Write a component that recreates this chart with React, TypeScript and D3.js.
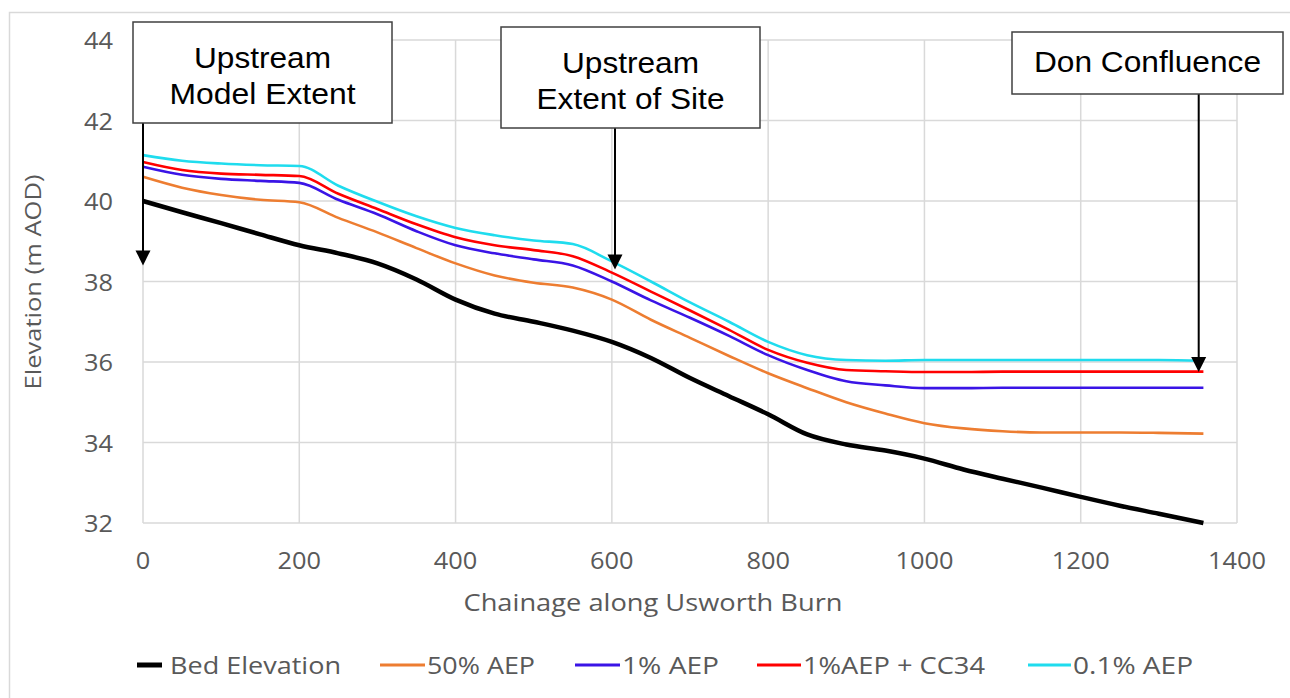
import React from "react";
import * as d3 from "d3";

const chainage = [0, 50, 100, 150, 200, 250, 300, 350, 400, 450, 500, 550, 600, 650, 700, 750, 800, 850, 900, 950, 1000, 1050, 1100, 1150, 1200, 1250, 1300, 1357];
const bedElevation = [40.0, 39.72, 39.45, 39.17, 38.9, 38.7, 38.45, 38.05, 37.55, 37.2, 37.0, 36.78, 36.5, 36.1, 35.6, 35.15, 34.7, 34.2, 33.95, 33.8, 33.6, 33.33, 33.1, 32.88, 32.65, 32.43, 32.23, 32.0];
const aep50 = [40.6, 40.33, 40.15, 40.03, 39.97, 39.58, 39.22, 38.83, 38.45, 38.15, 37.97, 37.85, 37.55, 37.05, 36.6, 36.15, 35.72, 35.35, 35.0, 34.72, 34.48, 34.35, 34.28, 34.25, 34.25, 34.25, 34.24, 34.22];
const aep1 = [40.85, 40.65, 40.55, 40.5, 40.45, 40.03, 39.67, 39.25, 38.9, 38.7, 38.55, 38.4, 38.0, 37.53, 37.1, 36.65, 36.17, 35.8, 35.52, 35.42, 35.35, 35.35, 35.36, 35.36, 35.36, 35.36, 35.36, 35.36];
const aep1cc = [40.97, 40.77, 40.68, 40.65, 40.62, 40.18, 39.8, 39.42, 39.1, 38.9, 38.78, 38.63, 38.22, 37.75, 37.28, 36.8, 36.3, 35.98, 35.8, 35.77, 35.75, 35.75, 35.76, 35.76, 35.76, 35.76, 35.76, 35.76];
const aep01 = [41.14, 41.0, 40.93, 40.89, 40.87, 40.38, 39.98, 39.62, 39.33, 39.15, 39.02, 38.93, 38.5, 38.0, 37.48, 37.0, 36.5, 36.17, 36.05, 36.03, 36.05, 36.05, 36.05, 36.05, 36.05, 36.05, 36.05, 36.03];

const xTicks = [0, 200, 400, 600, 800, 1000, 1200, 1400];
const yTicks = [32, 34, 36, 38, 40, 42, 44];

const seriesNames = ["Bed Elevation", "50% AEP", "1% AEP", "1%AEP + CC34", "0.1% AEP"];
const seriesValues = [bedElevation, aep50, aep1, aep1cc, aep01];
const seriesColors = ["#000000", "#ED7D31", "#3A14E6", "#FF0000", "#1FDCEE"];
const seriesWidths = [4.5, 2.6, 2.6, 2.6, 2.6];

const annotations = [
  { lines: ["Upstream", "Model Extent"], at: 0, tip: 38.4 },
  { lines: ["Upstream", "Extent of Site"], at: 604, tip: 38.3 },
  { lines: ["Don Confluence"], at: 1351, tip: 35.75 },
];

export default function App() {
  const W = 1290, H = 698;
  const x = d3.scaleLinear().domain([0, 1400]).range([143, 1237]);
  const y = d3.scaleLinear().domain([32, 44]).range([523, 40]);
  const line = d3.line<number>().x((_, i) => x(chainage[i])).y((d) => y(d)).curve(d3.curveMonotoneX);

  const boxes = [
    { x0: 133, y0: 22, x1: 392, y1: 123, base: [68, 104], widths: [137, 186] },
    { x0: 501, y0: 27, x1: 760, y1: 128, base: [73, 109], widths: [137, 188] },
    { x0: 1012, y0: 32, x1: 1283, y1: 94, base: [72], widths: [227] },
  ];

  const legendItems = [
    { sx: 137, tx: 170, w: 171 },
    { sx: 380, tx: 427, w: 108 },
    { sx: 575, tx: 622, w: 97 },
    { sx: 757, tx: 803, w: 182 },
    { sx: 1028, tx: 1073, w: 120 },
  ];
  const legendY = 665;

  const tickFont = "'Open Sans', sans-serif";
  const digitW = 14.5;
  return (
    <svg width={W} height={H} style={{ position: "absolute", left: 0, top: 0, background: "#fff" }}>
      <rect x={0} y={0} width={W} height={H} fill="#fff" />
      {/* outer frame */}
      <path d={`M9.5,${H} V12.5 H${W}`} fill="none" stroke="#D9D9D9" strokeWidth={1.5} />
      {/* grid */}
      {yTicks.map((t) => (
        <line key={"gy" + t} x1={x(0)} x2={x(1400)} y1={y(t)} y2={y(t)} stroke="#D9D9D9" strokeWidth={1.5} />
      ))}
      {xTicks.map((t) => (
        <line key={"gx" + t} x1={x(t)} x2={x(t)} y1={y(44)} y2={y(32)} stroke="#D9D9D9" strokeWidth={1.5} />
      ))}
      {/* tick labels */}
      {yTicks.map((t) => (
        <text key={"ly" + t} x={113} y={y(t) + 9} textAnchor="end" fontFamily={tickFont} fontSize={24} fill="#595959"
          textLength={String(t).length * digitW} lengthAdjust="spacingAndGlyphs">
          {t}
        </text>
      ))}
      {xTicks.map((t) => (
        <text key={"lx" + t} x={x(t)} y={569} textAnchor="middle" fontFamily={tickFont} fontSize={24} fill="#595959"
          textLength={String(t).length * digitW} lengthAdjust="spacingAndGlyphs">
          {t}
        </text>
      ))}
      <text x={653} y={611} textAnchor="middle" fontFamily={tickFont} fontSize={24} fill="#595959"
        textLength={379} lengthAdjust="spacingAndGlyphs">
        Chainage along Usworth Burn
      </text>
      <text transform={`translate(41,282) rotate(-90)`} textAnchor="middle" fontFamily={tickFont} fontSize={22} fill="#595959"
        textLength={215} lengthAdjust="spacingAndGlyphs">
        Elevation (m AOD)
      </text>
      {/* series */}
      {seriesValues.map((vals, i) => (
        <path key={"s" + i} d={line(vals) || ""} fill="none" stroke={seriesColors[i]} strokeWidth={seriesWidths[i]} strokeLinejoin="round" />
      ))}
      {/* annotations */}
      {annotations.map((a, i) => {
        const b = boxes[i];
        const ax = x(a.at);
        const tipY = y(a.tip);
        return (
          <g key={"a" + i}>
            <line x1={ax} x2={ax} y1={b.y1} y2={tipY - 14} stroke="#000" strokeWidth={2} />
            <path d={`M${ax - 7.5},${tipY - 15} L${ax + 7.5},${tipY - 15} L${ax},${tipY} Z`} fill="#000" />
            <rect x={b.x0} y={b.y0} width={b.x1 - b.x0} height={b.y1 - b.y0} fill="#fff" stroke="#404040" strokeWidth={1.5} />
            {a.lines.map((l, j) => (
              <text key={j} x={(b.x0 + b.x1) / 2} y={b.base[j]} textAnchor="middle" fontFamily="'Liberation Sans', Arial, sans-serif" fontSize={29} fill="#000"
                textLength={b.widths[j]} lengthAdjust="spacingAndGlyphs">
                {l}
              </text>
            ))}
          </g>
        );
      })}
      {/* legend */}
      {seriesNames.map((n, i) => (
        <g key={"lg" + i}>
          <line x1={legendItems[i].sx} x2={legendItems[i].tx - (i === 0 ? 8 : 2)} y1={legendY} y2={legendY} stroke={seriesColors[i]} strokeWidth={i === 0 ? 5 : 3} />
          <text x={legendItems[i].tx} y={legendY + 9} fontFamily={tickFont} fontSize={24} fill="#595959"
            textLength={legendItems[i].w} lengthAdjust="spacingAndGlyphs">
            {n}
          </text>
        </g>
      ))}
    </svg>
  );
}
